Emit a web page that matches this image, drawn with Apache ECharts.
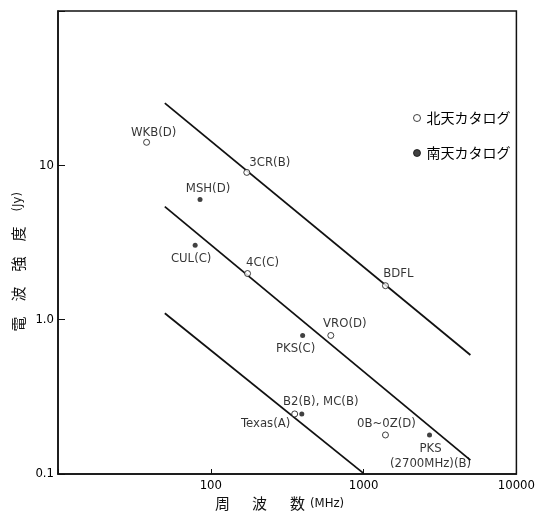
<!DOCTYPE html>
<html><head><meta charset="utf-8">
<script src="https://cdn.jsdelivr.net/npm/echarts@6/dist/echarts.min.js"></script>
<style>html,body{margin:0;padding:0;background:#fff}#c{width:538px;height:516px}</style>
</head><body><div id="c"></div>
<script>
// ---- data ----
const northNames = ['WKB(D)', '3CR(B)', '4C(C)', 'BDFL', 'VRO(D)', 'Texas(A)', '0B~0Z(D)'];
const northFreq  = [38, 172, 174, 1390, 610, 354, 1390];
const northFlux  = [14.1, 9.0, 1.99, 1.66, 0.79, 0.245, 0.179];
const southNames = ['MSH(D)', 'CUL(C)', 'PKS(C)', 'B2(B), MC(B)', 'PKS\n(2700MHz)(B)'];
const southFreq  = [85, 79, 399, 394, 2700];
const southFlux  = [6.0, 3.03, 0.79, 0.245, 0.179];
const lineNames     = ['50', '500', '5000'];
const lineStartFreq = [50, 50, 50];
const lineStartFlux = [25.3, 5.4, 1.1];
const lineEndFreq   = [5000, 5000, 1000];
const lineEndFlux   = [0.59, 0.123, 0.101];
const xTickLabels = ['100', '1000', '10000'];
const yTickLabels = ['0.1', '1.0', '10'];
const legendNames = ['北天カタログ', '南天カタログ'];

// ---- style ----
const LAT = "'DejaVu Sans Condensed','Liberation Sans Narrow','Noto Sans',sans-serif";
const CJK = "'Noto Sans CJK JP','Noto Sans CJK SC',sans-serif";
const INK = '#111';
const labelOffset = {
  'WKB(D)': [7, -10], '3CR(B)': [23, -10], '4C(C)': [15, -11], 'BDFL': [13, -12],
  'VRO(D)': [14, -12], 'Texas(A)': [-29, 10], '0B~0Z(D)': [1, -11],
  'MSH(D)': [8, -11], 'CUL(C)': [-4, 13], 'PKS(C)': [-7, 13],
  'B2(B), MC(B)': [19, -12], 'PKS\n(2700MHz)(B)': [1, 21]
};

function pts(names, fx, fy) {
  return names.map((n, i) => ({
    name: n, value: [fx[i], fy[i]],
    label: { show: true, position: 'inside', formatter: n, offset: labelOffset[n],
      align: 'center', verticalAlign: 'middle', textBorderWidth: 0,
      color: '#000', fontFamily: LAT, fontSize: 13, lineHeight: 15 }
  }));
}

const lineSeries = lineNames.map((n, i) => ({
  type: 'line', name: 'line' + n, silent: true, symbol: 'none',
  lineStyle: { color: INK, width: 1.8 },
  data: [
    { value: [lineStartFreq[i], lineStartFlux[i]],
      label: { show: true, position: 'left', distance: 3, formatter: n,
        color: '#000', fontFamily: LAT, fontSize: 13 } },
    { value: [lineEndFreq[i], lineEndFlux[i]] }
  ],
  z: 2
}));

const chart = echarts.init(document.getElementById('c'), null, { renderer: 'canvas' });
chart.setOption({
  animation: false,
  backgroundColor: '#fff',
  grid: { left: 58, right: 21, top: 11, bottom: 42, show: true, borderColor: INK, borderWidth: 1.5 },
  xAxis: {
    type: 'log', logBase: 10, min: 10, max: 10000,
    axisLine: { show: true, lineStyle: { color: INK, width: 1.5 } },
    axisTick: { show: true, inside: true, length: 5, lineStyle: { color: INK } },
    minorTick: { show: false }, splitLine: { show: false },
    axisLabel: { margin: 5, color: '#000', fontFamily: LAT, fontSize: 13,
      formatter: v => { const e = Math.round(Math.log10(v)); return e >= 2 ? xTickLabels[e - 2] : ''; } }
  },
  yAxis: {
    type: 'log', logBase: 10, min: 0.1, max: 100,
    axisLine: { show: true, lineStyle: { color: INK, width: 1.5 } },
    axisTick: { show: true, inside: true, length: 7, lineStyle: { color: INK } },
    minorTick: { show: false }, splitLine: { show: false },
    axisLabel: { margin: 4, color: '#000', fontFamily: LAT, fontSize: 13,
      formatter: v => { const e = Math.round(Math.log10(v)); return e <= 1 ? yTickLabels[e + 1] : ''; } }
  },
  legend: {
    data: legendNames, orient: 'vertical', left: 408, top: 105,
    itemWidth: 7, itemHeight: 7, itemGap: 19, icon: 'circle',
    itemStyle: { borderWidth: 1 },
    textStyle: { color: '#000', fontFamily: CJK, fontSize: 14, lineHeight: 16, padding: [0, 0, 0, 1] }
  },
  graphic: [
    { type: 'text', left: 215, top: 496, style: { text: '周', font: '15px ' + CJK, fill: INK } },
    { type: 'text', left: 252, top: 496, style: { text: '波', font: '15px ' + CJK, fill: INK } },
    { type: 'text', left: 290, top: 496, style: { text: '数', font: '15px ' + CJK, fill: INK } },
    { type: 'text', left: 310, top: 497, style: { text: '(MHz)', font: '13px ' + LAT, fill: INK } },
    { type: 'group', left: 11, top: 192, children: [
      { type: 'text', x: 0, y: 138, rotation: Math.PI / 2, style: { text: '電', font: '15px ' + CJK, fill: INK } },
      { type: 'text', x: 0, y: 108, rotation: Math.PI / 2, style: { text: '波', font: '15px ' + CJK, fill: INK } },
      { type: 'text', x: 0, y: 78, rotation: Math.PI / 2, style: { text: '強', font: '15px ' + CJK, fill: INK } },
      { type: 'text', x: 0, y: 48, rotation: Math.PI / 2, style: { text: '度', font: '15px ' + CJK, fill: INK } },
      { type: 'text', x: 0, y: 18, rotation: Math.PI / 2, style: { text: '(Jy)', font: '13px ' + LAT, fill: INK } }
    ] }
  ],
  series: lineSeries.concat([
    { type: 'scatter', name: legendNames[0], symbol: 'circle', symbolSize: 6,
      itemStyle: { color: '#fff', borderColor: INK, borderWidth: 1 },
      data: pts(northNames, northFreq, northFlux), z: 5 },
    { type: 'scatter', name: legendNames[1], symbol: 'circle', symbolSize: 5,
      itemStyle: { color: INK, borderColor: INK, borderWidth: 0 },
      data: pts(southNames, southFreq, southFlux), z: 5 }
  ])
});
</script>
</body></html>
